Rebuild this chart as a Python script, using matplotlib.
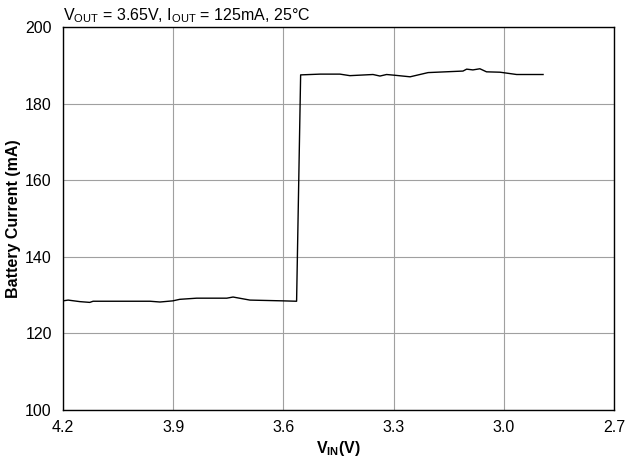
import numpy as np
import matplotlib.pyplot as plt

plt.rcParams['font.family'] = ['Liberation Sans', 'DejaVu Sans']

# input voltage sweep (V) and battery current (mA)
vin = [4.2, 4.186, 4.154, 4.127, 4.118, 3.963, 3.936, 3.901, 3.882, 3.836, 3.754, 3.737,
       3.691, 3.601, 3.564, 3.553, 3.500, 3.446, 3.419, 3.356, 3.337, 3.319, 3.296, 3.255,
       3.206, 3.111, 3.101, 3.084, 3.065, 3.047, 3.010, 2.965, 2.893]
ibat = [128.5, 128.7, 128.3, 128.1, 128.4, 128.4, 128.2, 128.5, 128.9, 129.2, 129.2, 129.5,
        128.7, 128.5, 128.4, 187.5, 187.7, 187.7, 187.3, 187.6, 187.2, 187.6, 187.4, 187.0,
        188.1, 188.5, 189.0, 188.8, 189.1, 188.3, 188.2, 187.6, 187.6]

xticks = [4.2, 3.9, 3.6, 3.3, 3.0, 2.7]
yticks = [100, 120, 140, 160, 180, 200]

FS = 11.5

fig = plt.figure(figsize=(6.31, 4.61), dpi=100)
ax = fig.add_axes([0.0998, 0.1106, 0.8732, 0.8308])
ax.plot(vin, ibat, color='black', linewidth=1.0)

ax.set_xlim(4.2, 2.7)
ax.set_ylim(100, 200)
ax.set_xticks(xticks)
ax.set_xticklabels(['%.1f' % t for t in xticks])
ax.set_yticks(yticks)
ax.grid(True, color='#a0a0a0', linewidth=0.8)
ax.tick_params(axis='both', length=0, labelsize=FS)
ax.tick_params(axis='y', pad=8)
ax.tick_params(axis='x', pad=7)
for s in ax.spines.values():
    s.set_linewidth(1.0)
    s.set_color('black')

ax.set_xlabel(r'V$_{\mathregular{IN}}$(V)', fontsize=FS, fontweight='bold', labelpad=3)
ax.set_ylabel('Battery Current (mA)', fontsize=FS, fontweight='bold', labelpad=3)
ax.set_title(r'V$_{\mathregular{OUT}}$ = 3.65V, I$_{\mathregular{OUT}}$ = 125mA, 25°C',
             loc='left', fontsize=FS, pad=5)

fig.savefig('out.png', dpi=100)
